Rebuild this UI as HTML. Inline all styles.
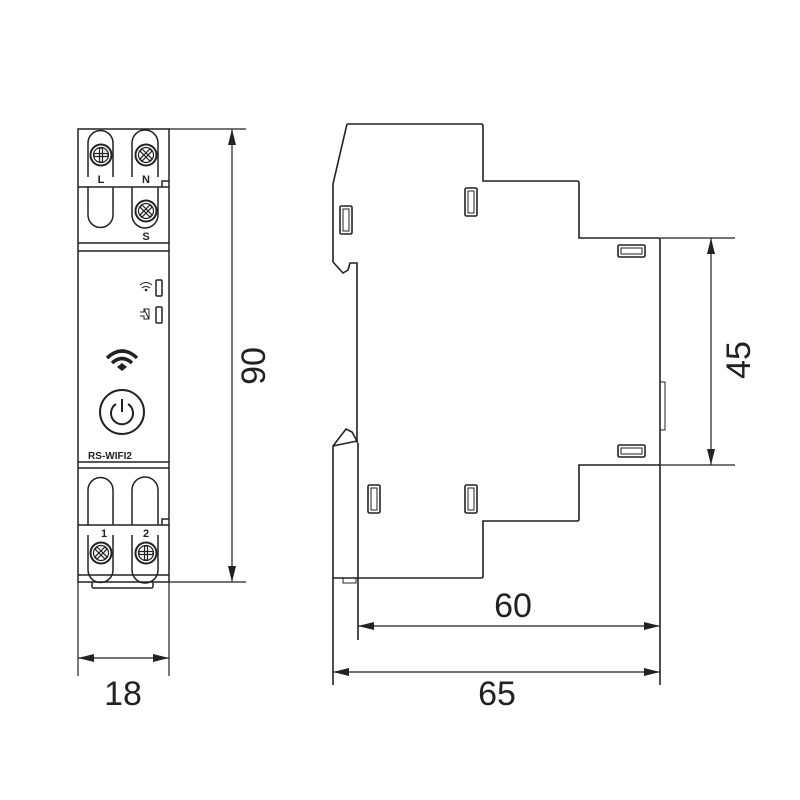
<!DOCTYPE html>
<html><head><style>body{margin:0;background:#fff}svg{display:block}</style></head>
<body>
<svg width="800" height="800" viewBox="0 0 800 800" xmlns="http://www.w3.org/2000/svg" font-family="Liberation Sans, sans-serif">
<defs>
<marker id="a" viewBox="0 0 16 8" refX="16" refY="4" markerWidth="16" markerHeight="8" orient="auto-start-reverse" markerUnits="userSpaceOnUse"><path d="M0,0 L16,4 L0,8 Z" fill="#222"/></marker>
<g id="scr"><circle r="10.5" fill="#fff" stroke="#222" stroke-width="2"/><circle r="7.5" fill="none" stroke="#222" stroke-width="1.2"/><path d="M-7,-1.5h14v3h-14z M-1.5,-7h3v14h-3z" fill="none" stroke="#222" stroke-width="1.2"/></g>
<g id="x"><circle r="10.5" fill="#fff" stroke="#222" stroke-width="2"/><circle r="7.5" fill="none" stroke="#222" stroke-width="1.2"/><g transform="rotate(45)"><path d="M-7,-1.5h14v3h-14z M-1.5,-7h3v14h-3z" fill="none" stroke="#222" stroke-width="1.2"/></g></g>
<g id="vs"><rect x="0" y="0" width="12" height="28" rx="1.5" fill="none" stroke="#222" stroke-width="1.6"/><rect x="3" y="3" width="6" height="22" fill="none" stroke="#222" stroke-width="1"/></g>
<g id="hs"><rect x="0" y="0" width="27" height="12" rx="1.5" fill="none" stroke="#222" stroke-width="1.6"/><rect x="3" y="3" width="21" height="6" fill="none" stroke="#222" stroke-width="1"/></g>
</defs>
<g fill="none" stroke="#222" stroke-width="1.5">
<!-- front view -->
<rect x="78" y="129" width="91" height="453"/>
<line x1="78" y1="187" x2="169" y2="187"/>
<line x1="78" y1="243" x2="169" y2="243"/>
<line x1="78" y1="251" x2="169" y2="251"/>
<line x1="78" y1="462" x2="169" y2="462"/>
<line x1="78" y1="468" x2="169" y2="468"/>
<line x1="78" y1="525" x2="169" y2="525"/>
<line x1="78" y1="575" x2="169" y2="575"/>
<path d="M92,582 v4 q0,2 2,2 h57 q2,0 2,-2 v-4"/>
<path d="M162,187 v-6 h7"/><path d="M162,525 v-6 h7"/>
<!-- top U shapes -->
<path d="M88,177 V143 a12.5,12.5 0 0 1 25,0 V177"/>
<path d="M132,177 V143 a13,13 0 0 1 26,0 V177"/>
<path d="M88,187 V215 a12.5,12.5 0 0 0 25,0 V187"/>
<path d="M132,187 V215 a13,13 0 0 0 26,0 V187"/>
<path d="M88,525 V490 a12.5,12.5 0 0 1 25,0 V525"/>
<path d="M132,525 V490 a13,13 0 0 1 26,0 V525"/>
<path d="M88,535 V570 a12.5,12.5 0 0 0 25,0 V535"/>
<path d="M132,535 V570 a13,13 0 0 0 26,0 V535"/>
<rect x="156" y="280" width="6" height="16" rx="1"/>
<rect x="156" y="307" width="6" height="16" rx="1"/>
<circle cx="122" cy="412" r="22" stroke-width="2"/>
<path d="M116,404 a11,11 0 1 0 12,0" stroke-width="2"/>
<line x1="122" y1="399" x2="122" y2="412" stroke-width="2"/>
<!-- small wifi -->
<path d="M140,285 q6,-5 12,0 M142,288 q4,-3 8,0" stroke-width="1"/>
<path d="M140,312 h4 v-3 h5 v10 h-5 v-3 h-4 M144,309 l5,10" stroke-width="1"/>
<!-- big wifi -->
<path d="M107,358 q15,-14 30,0 M112,363 q10,-9 20,0" stroke-width="3.5"/>
</g>
<path d="M117,367 l5,-4 l5,4 l-5,4z" fill="#222"/>
<circle cx="146" cy="290" r="1.3" fill="#222"/>
<use href="#scr" x="101" y="155"/><use href="#x" x="146" y="155"/><use href="#x" x="146" y="211"/>
<use href="#x" x="101" y="553"/><use href="#scr" x="146" y="553"/>
<g font-weight="bold" font-size="11" fill="#222" text-anchor="middle">
<text x="101" y="183">L</text><text x="146" y="183">N</text><text x="146" y="240">S</text>
<text x="104" y="537">1</text><text x="146" y="537">2</text>
<text x="110" y="459" font-size="10">RS-WIFI2</text>
</g>
<!-- dims front -->
<g stroke="#222" stroke-width="1.2" fill="none">
<line x1="169" y1="129" x2="246" y2="129"/><line x1="169" y1="582" x2="246" y2="582"/>
<line x1="232" y1="129" x2="232" y2="582" marker-start="url(#a)" marker-end="url(#a)"/>
<line x1="78" y1="582" x2="78" y2="676"/><line x1="169" y1="582" x2="169" y2="676"/>
<line x1="78" y1="658" x2="169" y2="658" marker-start="url(#a)" marker-end="url(#a)"/>
</g>
<text x="123" y="705" font-size="34" text-anchor="middle" fill="#222">18</text>
<text transform="translate(265,366) rotate(-90)" font-size="34" text-anchor="middle" fill="#222">90</text>
<!-- side view -->
<g fill="none" stroke="#222" stroke-width="1.6">
<path d="M347,124 H481 q2,0 2,2 V181 H577 q2,0 2,2 V238 H658 q2,0 2,2 V463 q0,2 -2,2 H579 V519 q0,2 -2,2 H483 V576 q0,2 -2,2 H333 V446 L346,429 L352,432 L357,441 L333,446"/>
<path d="M347,124 L333,184 V262 L343,273 L348,270 L350,263 H357 V443"/>
<line x1="358" y1="443" x2="358" y2="640"/>
<line x1="333" y1="578" x2="333" y2="685"/>
<rect x="343" y="578" width="13" height="5" stroke-width="1"/>
<rect x="660" y="382" width="5" height="48" stroke-width="1"/>
<line x1="660" y1="465" x2="660" y2="685"/>
</g>
<use href="#vs" x="340" y="206"/><use href="#vs" x="465" y="188"/>
<use href="#vs" x="368" y="485"/><use href="#vs" x="465" y="485"/>
<use href="#hs" x="618" y="245"/><use href="#hs" x="618" y="445"/>
<g stroke="#222" stroke-width="1.2" fill="none">
<line x1="660" y1="238" x2="735" y2="238"/><line x1="660" y1="465" x2="735" y2="465"/>
<line x1="711" y1="238" x2="711" y2="465" marker-start="url(#a)" marker-end="url(#a)"/>
<line x1="358" y1="626" x2="660" y2="626" marker-start="url(#a)" marker-end="url(#a)"/>
<line x1="333" y1="672" x2="660" y2="672" marker-start="url(#a)" marker-end="url(#a)"/>
</g>
<text x="513" y="617" font-size="34" text-anchor="middle" fill="#222">60</text>
<text x="497" y="705" font-size="34" text-anchor="middle" fill="#222">65</text>
<text transform="translate(750,360) rotate(-90)" font-size="34" text-anchor="middle" fill="#222">45</text>
</svg>
</body></html>
